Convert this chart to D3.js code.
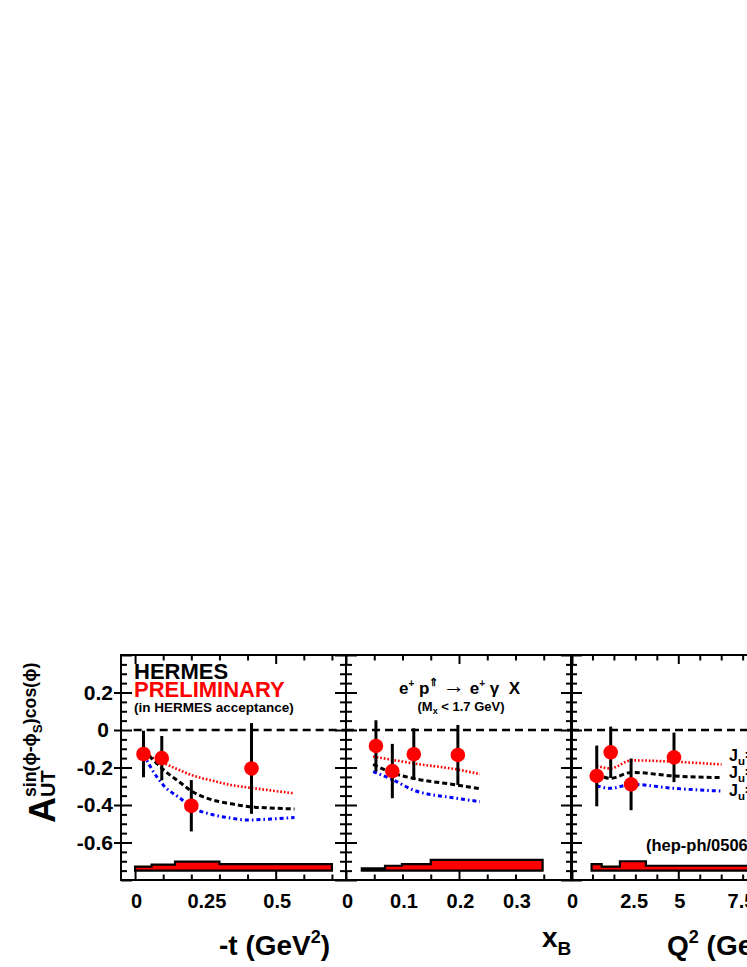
<!DOCTYPE html>
<html><head><meta charset="utf-8">
<script src="https://cdn.jsdelivr.net/npm/d3@7"></script>
<style>
body{margin:0;background:#fff;overflow:hidden;}
svg text{font-family:"Liberation Sans",Arial,Helvetica,sans-serif;font-weight:bold;fill:#000;}
</style></head><body>
<svg id="c" width="747" height="967"></svg>
<script>
// ---------------- DATA ----------------
// panel 1 : -t
const tX      = [0.03, 0.095, 0.2, 0.414];
const tA      = [-0.128, -0.150, -0.404, -0.205];
const tErr    = [0.124, 0.118, 0.137, 0.242];
const tCurveX = [0.03, 0.065, 0.1, 0.16, 0.2, 0.28, 0.34, 0.4, 0.48, 0.567];
const tRed    = [-0.115, -0.150, -0.175, -0.215, -0.240, -0.272, -0.293, -0.306, -0.322, -0.338];
const tBlack  = [-0.107, -0.160, -0.210, -0.280, -0.325, -0.375, -0.393, -0.408, -0.416, -0.421];
const tBlue   = [-0.130, -0.222, -0.293, -0.364, -0.410, -0.453, -0.470, -0.480, -0.475, -0.467];
const tSysEdges = [0, 0.059, 0.142, 0.30, 0.70];
const tSys      = [0.021, 0.032, 0.048, 0.035];

// panel 2 : x_B
const xbX      = [0.053, 0.082, 0.12, 0.198];
const xbA      = [-0.085, -0.219, -0.129, -0.133];
const xbErr    = [0.137, 0.145, 0.138, 0.160];
const xbCurveX = [0.048, 0.084, 0.119, 0.196, 0.237];
const xbRed    = [-0.142, -0.160, -0.178, -0.210, -0.235];
const xbBlack  = [-0.183, -0.231, -0.258, -0.293, -0.313];
const xbBlue   = [-0.222, -0.267, -0.320, -0.364, -0.382];
const xbSysEdges = [0.028, 0.069, 0.099, 0.15, 0.348];
const xbSys      = [0.012, 0.026, 0.035, 0.057];

// panel 3 : Q^2
const qX      = [1.2, 1.85, 2.8, 4.8];
const qA      = [-0.245, -0.119, -0.290, -0.146];
const qErr    = [0.162, 0.137, 0.138, 0.132];
const qCurveX = [1.2, 1.82, 2.83, 4.77, 7.02];
const qRed    = [-0.190, -0.205, -0.162, -0.169, -0.184];
const qBlack  = [-0.231, -0.258, -0.226, -0.245, -0.254];
const qBlue   = [-0.297, -0.311, -0.290, -0.311, -0.326];
const qSysEdges = [0.96, 1.43, 2.28, 3.49, 10.0];
const qSys      = [0.035, 0.021, 0.050, 0.026];

const sysBase = -0.75;

// ticks & labels
const yMajorTicks = [-0.8, -0.6, -0.4, -0.2, 0, 0.2, 0.4];
const yMinorTicks = [-0.75,-0.7,-0.65,-0.55,-0.5,-0.45,-0.35,-0.3,-0.25,-0.15,-0.1,-0.05,0.05,0.1,0.15,0.25,0.3,0.35];
const yTickLabels = [-0.6, -0.4, -0.2, 0, 0.2];
const tMinorTicks = [0.1, 0.2, 0.3, 0.4, 0.6, 0.7];
const tMajorTicks = [0, 0.5];
const tTickLabels = [0, 0.25, 0.5];
const xbMinorTicks = [0.05, 0.1, 0.15, 0.25, 0.3, 0.35];
const xbMajorTicks = [0, 0.2, 0.4];
const xbTickLabels = [0, 0.1, 0.2, 0.3];
const qMinorTicks = [1, 2, 3, 4, 6, 7, 8, 9];
const qMajorTicks = [0, 5, 10];
const qTickLabels = [0, 2.5, 5, 7.5, 10];

const modelLabels = ["=0.4, J", "=0.2, J", "=0.0, J"];

// ---------------- DRAW ----------------
const svg = d3.select("#c");
svg.append("rect").attr("width",747).attr("height",967).attr("fill","#fff");

const yTop = 655, yBot = 880;
const y = d3.scaleLinear().domain([-0.8, 0.4]).range([yBot, yTop]);

const panels = [
  {x: d3.scaleLinear().domain([-0.05, 0.75]).range([121, 346]),
   px: tX, pa: tA, pe: tErr, cx: tCurveX, red: tRed, black: tBlack, blue: tBlue,
   se: tSysEdges, sv: tSys, minor: tMinorTicks, major: tMajorTicks, labels: tTickLabels},
  {x: d3.scaleLinear().domain([0, 0.4]).range([346, 572]),
   px: xbX, pa: xbA, pe: xbErr, cx: xbCurveX, red: xbRed, black: xbBlack, blue: xbBlue,
   se: xbSysEdges, sv: xbSys, minor: xbMinorTicks, major: xbMajorTicks, labels: xbTickLabels},
  {x: d3.scaleLinear().domain([0, 10.5]).range([571, 796.3]),
   px: qX, pa: qA, pe: qErr, cx: qCurveX, red: qRed, black: qBlack, blue: qBlue,
   se: qSysEdges, sv: qSys, minor: qMinorTicks, major: qMajorTicks, labels: qTickLabels}
];

function fmt(v){ return String(v).replace("\u2212","-"); }

function tickGroup(parent, axis, transform){
  const g = parent.append("g").attr("transform", transform).call(axis);
  g.select(".domain").remove();
  g.selectAll("line").attr("stroke","#000").attr("stroke-width",2);
  return g;
}

panels.forEach((p, i) => {
  const g = svg.append("g");
  const [L, R] = p.x.range();

  // systematic band
  const pts = [];
  pts.push([p.x(p.se[0]), y(sysBase)]);
  p.sv.forEach((h, k) => {
    pts.push([p.x(p.se[k]), y(sysBase + h)]);
    pts.push([p.x(p.se[k+1]), y(sysBase + h)]);
  });
  pts.push([p.x(p.se[p.se.length-1]), y(sysBase)]);
  g.append("path").attr("d", d3.line()(pts) + "Z")
    .attr("fill","#ff0000").attr("stroke","#000").attr("stroke-width",2.2)
    .attr("stroke-linejoin","miter");

  // zero line
  g.append("line").attr("x1", i===0 ? p.x(-0.005) : L).attr("x2", R)
    .attr("y1", y(0)).attr("y2", y(0))
    .attr("stroke","#000").attr("stroke-width",2.4).attr("stroke-dasharray","8,5");

  // model curves
  const line = d3.line().x(d => p.x(d[0])).y(d => y(d[1])).curve(d3.curveMonotoneX);
  const curves = [
    {v: p.red,   c: "#ff0000", dash: "1.7,1.9", w: 2.6},
    {v: p.black, c: "#000000", dash: "5,3",     w: 3},
    {v: p.blue,  c: "#0000ff", dash: "4,3,1.6,3", w: 3}
  ];
  curves.forEach(cv => {
    g.append("path").attr("d", line(p.cx.map((xx, k) => [xx, cv.v[k]])))
      .attr("fill","none").attr("stroke", cv.c).attr("stroke-width", cv.w)
      .attr("stroke-dasharray", cv.dash);
  });

  // error bars
  g.selectAll(null).data(p.px).enter().append("line")
    .attr("x1", d => p.x(d)).attr("x2", d => p.x(d))
    .attr("y1", (d,k) => y(p.pa[k] + p.pe[k])).attr("y2", (d,k) => y(p.pa[k] - p.pe[k]))
    .attr("stroke","#000").attr("stroke-width",3);
  // points
  g.selectAll(null).data(p.px).enter().append("circle")
    .attr("cx", d => p.x(d)).attr("cy", (d,k) => y(p.pa[k])).attr("r", 7.3)
    .attr("fill","#ff0000");

  // ticks: bottom (inward up), top (inward down)
  tickGroup(g, d3.axisBottom(p.x).tickValues(p.minor).tickSize(-5.5).tickFormat(""), `translate(0,${yBot})`);
  tickGroup(g, d3.axisBottom(p.x).tickValues(p.major).tickSize(-9).tickFormat(""), `translate(0,${yBot})`);
  tickGroup(g, d3.axisTop(p.x).tickValues(p.minor).tickSize(-5.5).tickFormat(""), `translate(0,${yTop})`);
  tickGroup(g, d3.axisTop(p.x).tickValues(p.major).tickSize(-9).tickFormat(""), `translate(0,${yTop})`);
  // left / right y ticks (inward)
  tickGroup(g, d3.axisLeft(y).tickValues(yMinorTicks).tickSize(-6).tickFormat(""), `translate(${L},0)`);
  tickGroup(g, d3.axisLeft(y).tickValues(yMajorTicks).tickSize(-11).tickFormat(""), `translate(${L},0)`);
  tickGroup(g, d3.axisRight(y).tickValues(yMinorTicks).tickSize(-6).tickFormat(""), `translate(${R},0)`);
  tickGroup(g, d3.axisRight(y).tickValues(yMajorTicks).tickSize(-11).tickFormat(""), `translate(${R},0)`);

  // frame
  g.append("rect").attr("x", L).attr("y", yTop).attr("width", R-L).attr("height", yBot-yTop)
    .attr("fill","none").attr("stroke","#000").attr("stroke-width",2);

  // x tick labels
  const lab = g.append("g").attr("transform", `translate(0,${yBot})`)
    .call(d3.axisBottom(p.x).tickValues(p.labels).tickSize(0).tickPadding(14).tickFormat(fmt));
  lab.select(".domain").remove();
  lab.selectAll("text").attr("font-size",20).attr("font-family",null)
    .attr("dx", d => (i===2 && (d===2.5 || d===7.5)) ? 9 : 1);
});

// y axis labels + outward majors on panel 1
const L0 = panels[0].x.range()[0];
tickGroup(svg, d3.axisLeft(y).tickValues(yTickLabels).tickSize(7).tickFormat(""), `translate(${L0},0)`);
const yl = svg.append("g").attr("transform", `translate(${L0},0)`)
  .call(d3.axisLeft(y).tickValues(yTickLabels).tickSize(0).tickPadding(8).tickFormat(fmt));
yl.select(".domain").remove();
yl.selectAll("text").attr("font-size",21).attr("font-family",null)
  .attr("dx", d => d === 0 ? -4 : 0);

// y axis title (rotated)
const yt = svg.append("g").attr("transform","translate(55,823) rotate(-90)");
yt.append("text").attr("x",0).attr("y",0).attr("font-size",36).text("A");
yt.append("text").attr("x",26).attr("y",0).attr("font-size",20).text("UT");
const sup = yt.append("text").attr("x",26).attr("y",-19).attr("font-size",17.7);
sup.append("tspan").text("sin(\u03d5-\u03d5");
sup.append("tspan").attr("font-size",13.5).attr("dy",6).text("S");
sup.append("tspan").attr("dy",-6).text(")cos(\u03d5)");

// x axis titles
const xt1 = svg.append("text").attr("x",219).attr("y",955).attr("font-size",28);
xt1.append("tspan").text("-t (GeV");
xt1.append("tspan").attr("font-size",18).attr("dy",-12).text("2");
xt1.append("tspan").attr("dy",12).text(")");
const xt2 = svg.append("text").attr("x",542).attr("y",947).attr("font-size",28);
xt2.append("tspan").text("x");
xt2.append("tspan").attr("font-size",19).attr("dy",8).text("B");
const xt3 = svg.append("text").attr("x",667).attr("y",955).attr("font-size",28);
xt3.append("tspan").text("Q");
xt3.append("tspan").attr("font-size",18).attr("dy",-12).text("2");
xt3.append("tspan").attr("dy",12).text(" (GeV");
xt3.append("tspan").attr("font-size",18).attr("dy",-12).text("2");
xt3.append("tspan").attr("dy",12).text(")");

// HERMES preliminary
svg.append("text").attr("x",134).attr("y",679).attr("font-size",22).text("HERMES");
svg.append("text").attr("x",134).attr("y",697).attr("font-size",22).style("fill","#ff0000").text("PRELIMINARY");
svg.append("text").attr("x",134).attr("y",711.5).attr("font-size",13.5).text("(in HERMES acceptance)");

// reaction title
const rt = svg.append("text").attr("x",459.5).attr("y",694).attr("font-size",17).attr("text-anchor","middle");
rt.append("tspan").text("e");
rt.append("tspan").attr("font-size",10).attr("dy",-7).text("+");
rt.append("tspan").attr("dy",7).text("\u00a0p");
rt.append("tspan").attr("font-size",11).attr("dy",-8).text("\u21d1");
rt.append("tspan").attr("dy",8).text("\u00a0");
rt.append("tspan").attr("font-size",22).attr("dy",-1).text("\u2192");
rt.append("tspan").attr("dy",1).text("\u00a0e");
rt.append("tspan").attr("font-size",10).attr("dy",-7).text("+");
rt.append("tspan").attr("dy",7).text("\u00a0\u03b3\u00a0\u00a0X");
const st = svg.append("text").attr("x",461).attr("y",711).attr("font-size",13).attr("text-anchor","middle");
st.append("tspan").text("(M");
st.append("tspan").attr("font-size",9).attr("dy",3).text("x");
st.append("tspan").attr("dy",-3).text(" < 1.7 GeV)");

// model labels
const mlY = [761, 778, 795.5];
modelLabels.forEach((m, k) => {
  const t = svg.append("text").attr("x",729).attr("y",mlY[k]).attr("font-size",16);
  t.append("tspan").text("J");
  t.append("tspan").attr("font-size",11.5).attr("dy",4).text("u");
  t.append("tspan").attr("dy",-4).text(m);
});
svg.append("text").attr("x",646).attr("y",851).attr("font-size",16.5).text("(hep-ph/0506264)");
</script>
</body></html>
